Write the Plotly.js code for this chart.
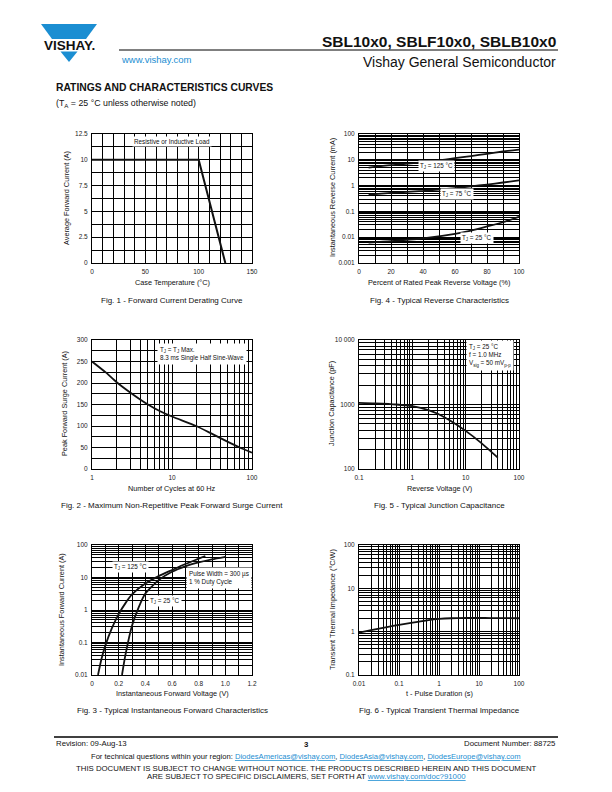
<!DOCTYPE html>
<html>
<head>
<meta charset="utf-8">
<script src="https://cdn.plot.ly/plotly-3.0.1.min.js"></script>
<style>
  body { margin: 0; background: #fff; }
  #plot { width: 612px; height: 792px; }
</style>
</head>
<body>
<div id="plot"></div>
<script>
/* Fig. 1 - Forward Current Derating Curve */
var derTemp = [0, 100, 125];
var derCurrent = [10, 10, 0];

/* Fig. 2 - Max. non-repetitive peak forward surge current */
var surgeCycles = [1, 1.5, 2, 3, 5, 7, 10, 20, 30, 50, 70, 100];
var surgeCurrent = [250, 224, 203, 178, 150, 135, 122, 100, 84, 63, 50, 38];

/* Fig. 3 - Typical instantaneous forward characteristics */
var fwd125V = [0.045, 0.07, 0.1, 0.15, 0.2, 0.25, 0.3, 0.4, 0.5, 0.6, 0.7, 0.8, 0.85];
var fwd125I = [0.01, 0.03, 0.08, 0.28, 0.75, 1.6, 3.0, 6.5, 11, 17, 26, 38, 46];
var fwd25V = [0.225, 0.25, 0.3, 0.35, 0.4, 0.5, 0.6, 0.7, 0.8, 0.9, 1.0];
var fwd25I = [0.01, 0.04, 0.33, 1.2, 3.2, 8.3, 15, 22, 29, 36, 43];

/* Fig. 4 - Typical reverse characteristics */
var revPct = [6, 20, 40, 60, 70, 80, 90, 100];
var rev125 = [5.0, 6.2, 7.9, 11.5, 14, 17, 21, 25];
var rev75 = [0.45, 0.52, 0.62, 0.8, 0.93, 1.1, 1.32, 1.6];
var rev25 = [0.0062, 0.007, 0.009, 0.0135, 0.018, 0.026, 0.038, 0.062];

/* Fig. 5 - Typical junction capacitance */
var capV = [0.1, 0.2, 0.5, 1, 2, 3, 5, 10, 20, 40];
var capPF = [1060, 1040, 1000, 940, 820, 720, 570, 390, 250, 150];

/* Fig. 6 - Typical transient thermal impedance */
var zthT = [0.01, 0.02, 0.05, 0.1, 0.2, 0.5, 1, 2, 5, 10, 20, 50, 100];
var zthK = [0.95, 1.08, 1.28, 1.43, 1.6, 1.83, 1.97, 2.04, 2.07, 2.07, 2.06, 2.05, 2.04];

/* tick labels */
var f1xTicks = [0, 50, 100, 150], f1xText = ['0', '50', '100', '150'];
var f1yTicks = [0, 2.5, 5, 7.5, 10, 12.5], f1yText = ['0', '2.5', '5', '7.5', '10', '12.5'];
var f2xTicks = [1, 10, 100], f2xText = ['1', '10', '100'];
var f2yTicks = [0, 50, 100, 150, 200, 250, 300], f2yText = ['0', '50', '100', '150', '200', '250', '300'];
var f3xTicks = [0, 0.2, 0.4, 0.6, 0.8, 1.0, 1.2], f3xText = ['0', '0.2', '0.4', '0.6', '0.8', '1.0', '1.2'];
var f3yTicks = [0.01, 0.1, 1, 10, 100], f3yText = ['0.01', '0.1', '1', '10', '100'];
var f4xTicks = [0, 20, 40, 60, 80, 100], f4xText = ['0', '20', '40', '60', '80', '100'];
var f4yTicks = [0.001, 0.01, 0.1, 1, 10, 100], f4yText = ['0.001', '0.01', '0.1', '1', '10', '100'];
var f5xTicks = [0.1, 1, 10, 100], f5xText = ['0.1', '1', '10', '100'];
var f5yTicks = [100, 1000, 10000], f5yText = ['100', '1000', '10 000'];
var f6xTicks = [0.01, 0.1, 1, 10, 100], f6xText = ['0.01', '0.1', '1', '10', '100'];
var f6yTicks = [0.1, 1, 10, 100], f6yText = ['0.1', '1', '10', '100'];

var W = 612, H = 792;
var FONT = 'Liberation Sans, Arial, Helvetica, sans-serif';
var BLUE = '#1b8ed2';

function px(x) { return x / W; }
function py(y) { return 1 - y / H; }
function dx(a, b) { return [px(a), px(b)]; }
function dy(a, b) { return [py(b), py(a)]; }

// grid lines: every step on linear axes, 1..9 per decade on log axes
function linGrid(lo, hi, step) {
  var v = [];
  for (var i = 0; lo + i * step <= hi + 1e-9; i++) v.push(+(lo + i * step).toFixed(4));
  return v;
}
function logGrid(lo, hi) {
  var v = [];
  for (var e = lo; e < hi; e++)
    for (var m = 1; m < 10; m++) v.push(+(m * Math.pow(10, e)).toPrecision(3));
  v.push(Math.pow(10, hi));
  return v;
}
function tickText(grid, vals, labels) {
  return grid.map(function (g) {
    for (var i = 0; i < vals.length; i++)
      if (Math.abs(vals[i] - g) <= 1e-6 * Math.max(1, Math.abs(g))) return labels[i];
    return '';
  });
}

function axis(dom, anchor, type, range, grid, vals, labels) {
  return {
    domain: dom, anchor: anchor, type: type, range: range,
    tickmode: 'array', tickvals: grid, ticktext: tickText(grid, vals, labels),
    showgrid: true, gridcolor: '#000', gridwidth: 1,
    showline: true, linecolor: '#000', linewidth: 1, mirror: true,
    zeroline: false, ticks: '', ticklabelstandoff: 2,
    tickfont: { family: FONT, size: 6.5, color: '#222' },
    fixedrange: true
  };
}

function curve(x, y, xa, ya) {
  return { x: x, y: y, xaxis: xa, yaxis: ya, type: 'scatter', mode: 'lines',
    line: { color: '#111', width: 1.8, shape: 'spline', smoothing: 0.6 },
    hoverinfo: 'skip' };
}

var data = [
  { x: derTemp, y: derCurrent, xaxis: 'x', yaxis: 'y', mode: 'lines',
    line: { color: '#111', width: 2 }, hoverinfo: 'skip' },
  curve(surgeCycles, surgeCurrent, 'x2', 'y2'),
  curve(fwd125V, fwd125I, 'x3', 'y3'),
  curve(fwd25V, fwd25I, 'x3', 'y3'),
  curve(revPct, rev125, 'x4', 'y4'),
  curve(revPct, rev75, 'x4', 'y4'),
  curve(revPct, rev25, 'x4', 'y4'),
  curve(capV, capPF, 'x5', 'y5'),
  curve(zthT, zthK, 'x6', 'y6')
];

var colL = dx(92, 252), colR = dx(359, 519);
var row1 = dy(134, 263), row2 = dy(340, 469), row3 = dy(545, 675);

function txt(text, x, y, size, opts) {
  var a = { text: text, x: x, y: y, xref: 'paper', yref: 'paper', showarrow: false,
    font: { family: FONT, size: size, color: '#111' }, xanchor: 'center', yanchor: 'middle' };
  for (var k in opts) a[k] = opts[k];
  return a;
}
function boxed(text, x, y, xref, yref, opts) {
  var a = { text: text, x: x, y: y, xref: xref, yref: yref, showarrow: false,
    font: { family: FONT, size: 6.3, color: '#111' }, bgcolor: '#fff', borderpad: 1,
    xanchor: 'center', yanchor: 'middle' };
  for (var k in opts) a[k] = opts[k];
  return a;
}
function link(s) { return '<span style="color:' + BLUE + ';text-decoration:underline">' + s + '</span>'; }

var CAP = 8, AX = 7.3, FOOT = 7.8;

var annotations = [
  // header
  txt('<b>VISHAY.</b>', px(69), py(45.5), 13.5, {}),
  txt('www.vishay.com', px(119), py(59), 9.5, { xanchor: 'left', font: { family: FONT, size: 9.5, color: BLUE } }),
  txt('<b>SBL10x0, SBLF10x0, SBLB10x0</b>', px(558), py(41), 15.5, { xanchor: 'right' }),
  txt('Vishay General Semiconductor', px(558), py(62), 14, { xanchor: 'right' }),
  txt('<b>RATINGS AND CHARACTERISTICS CURVES</b>', px(54), py(87), 10.3, { xanchor: 'left' }),
  txt('(T<sub>A</sub> = 25 °C unless otherwise noted)', px(54), py(103), 8.8, { xanchor: 'left' }),

  // captions
  txt('Fig. 1 - Forward Current Derating Curve', px(172), py(300), CAP, {}),
  txt('Fig. 4 - Typical Reverse Characteristics', px(439), py(300), CAP, {}),
  txt('Fig. 2 - Maximum Non-Repetitive Peak Forward Surge Current', px(172), py(505), CAP, {}),
  txt('Fig. 5 - Typical Junction Capacitance', px(439), py(505), CAP, {}),
  txt('Fig. 3 - Typical Instantaneous Forward Characteristics', px(172), py(710), CAP, {}),
  txt('Fig. 6 - Typical Transient Thermal Impedance', px(439), py(710), CAP, {}),

  // axis titles
  txt('Case Temperature (°C)', px(172), py(283), AX, {}),
  txt('Average Forward Current (A)', px(66), py(198), AX, { textangle: -90 }),
  txt('Percent of Rated Peak Reverse Voltage (%)', px(439), py(283), AX, {}),
  txt('Instantaneous Reverse Current (mA)', px(332), py(198), AX, { textangle: -90 }),
  txt('Number of Cycles at 60 Hz', px(172), py(488), AX, {}),
  txt('Peak Forward Surge Current (A)', px(65), py(404), AX, { textangle: -90 }),
  txt('Reverse Voltage (V)', px(439), py(488), AX, {}),
  txt('Junction Capacitance (pF)', px(332), py(404), AX, { textangle: -90 }),
  txt('Instantaneous Forward Voltage (V)', px(172), py(693), AX, {}),
  txt('Instantaneous Forward Current (A)', px(61), py(610), AX, { textangle: -90 }),
  txt('t - Pulse Duration (s)', px(439), py(693), AX, {}),
  txt('Transient Thermal Impedance (°C/W)', px(332), py(610), AX, { textangle: -90 }),

  // in-plot labels
  boxed('Resistive or Inductive Load', 75, 11.8, 'x', 'y', {}),
  boxed('T<sub>J</sub> = T<sub>J</sub> Max.<br>8.3 ms Single Half Sine-Wave', px(157), py(354), 'paper', 'paper',
    { xanchor: 'left', align: 'left', borderpad: 2 }),
  boxed('T<sub>J</sub> = 125 °C', 0.285, Math.log10(21), 'x3', 'y3', {}),
  boxed('T<sub>J</sub> = 25 °C', 0.55, Math.log10(1.9), 'x3', 'y3', {}),
  boxed('Pulse Width = 300 µs<br>1 % Duty Cycle', px(186), py(578), 'paper', 'paper',
    { xanchor: 'left', align: 'left', borderpad: 2 }),
  boxed('T<sub>J</sub> = 125 °C', 48.6, Math.log10(6), 'x4', 'y4', {}),
  boxed('T<sub>J</sub> = 75 °C', 61, Math.log10(0.49), 'x4', 'y4', {}),
  boxed('T<sub>J</sub> = 25 °C', 74, Math.log10(0.009), 'x4', 'y4', {}),
  boxed('T<sub>J</sub> = 25 °C<br>f = 1.0 MHz<br>V<sub>sig</sub> = 50 mV<sub>p-p</sub>', px(466), py(355), 'paper', 'paper',
    { xanchor: 'left', align: 'left', borderpad: 2 }),

  // footer
  txt('Revision: 09-Aug-13', px(54), py(743), FOOT, { xanchor: 'left' }),
  txt('<b>3</b>', px(306), py(744), FOOT, {}),
  txt('Document Number: 88725', px(558), py(743), FOOT, { xanchor: 'right' }),
  txt('For technical questions within your region: ' + link('DiodesAmericas@vishay.com') + ', ' +
      link('DiodesAsia@vishay.com') + ', ' + link('DiodesEurope@vishay.com'), px(306), py(756), 7.6, {}),
  txt('THIS DOCUMENT IS SUBJECT TO CHANGE WITHOUT NOTICE. THE PRODUCTS DESCRIBED HEREIN AND THIS DOCUMENT',
      px(306), py(768), FOOT, {}),
  txt('ARE SUBJECT TO SPECIFIC DISCLAIMERS, SET FORTH AT ' + link('www.vishay.com/doc?91000'),
      px(306), py(776.5), FOOT, {})
];

function path(pts) {
  return 'M' + pts.map(function (p) { return px(p[0]) + ',' + py(p[1]); }).join(' L') + ' Z';
}

var shapes = [
  // logo: inverted triangle cut by the name band
  { type: 'path', xref: 'paper', yref: 'paper', fillcolor: BLUE, line: { width: 0 },
    path: path([[41, 24], [97, 24], [86, 39], [52, 39]]) },
  { type: 'path', xref: 'paper', yref: 'paper', fillcolor: BLUE, line: { width: 0 },
    path: path([[60.5, 51.5], [77.5, 51.5], [69, 62]]) },
  // header & footer rules
  { type: 'line', xref: 'paper', yref: 'paper', x0: px(119), x1: px(558), y0: py(50), y1: py(50),
    line: { color: '#000', width: 1 } },
  { type: 'line', xref: 'paper', yref: 'paper', x0: px(54), x1: px(558), y0: py(737), y1: py(737),
    line: { color: '#000', width: 1.5 } }
];

var layout = {
  width: W, height: H,
  margin: { l: 0, r: 0, t: 0, b: 0 },
  paper_bgcolor: '#fff', plot_bgcolor: '#fff',
  showlegend: false,
  font: { family: FONT, color: '#111' },

  xaxis: axis(colL, 'y', 'linear', [0, 150], linGrid(0, 150, 10), f1xTicks, f1xText),
  yaxis: axis(row1, 'x', 'linear', [0, 12.5], linGrid(0, 12.5, 1.25), f1yTicks, f1yText),
  xaxis2: axis(colL, 'y2', 'log', [0, 2], logGrid(0, 2), f2xTicks, f2xText),
  yaxis2: axis(row2, 'x2', 'linear', [0, 300], linGrid(0, 300, 25), f2yTicks, f2yText),
  xaxis3: axis(colL, 'y3', 'linear', [0, 1.2], linGrid(0, 1.2, 0.1), f3xTicks, f3xText),
  yaxis3: axis(row3, 'x3', 'log', [-2, 2], logGrid(-2, 2), f3yTicks, f3yText),
  xaxis4: axis(colR, 'y4', 'linear', [0, 100], linGrid(0, 100, 10), f4xTicks, f4xText),
  yaxis4: axis(row1, 'x4', 'log', [-3, 2], logGrid(-3, 2), f4yTicks, f4yText),
  xaxis5: axis(colR, 'y5', 'log', [-1, 2], logGrid(-1, 2), f5xTicks, f5xText),
  yaxis5: axis(row2, 'x5', 'log', [2, 4], logGrid(2, 4), f5yTicks, f5yText),
  xaxis6: axis(colR, 'y6', 'log', [-2, 2], logGrid(-2, 2), f6xTicks, f6xText),
  yaxis6: axis(row3, 'x6', 'log', [-1, 2], logGrid(-1, 2), f6yTicks, f6yText),

  annotations: annotations,
  shapes: shapes
};

Plotly.newPlot('plot', data, layout, { displayModeBar: false, staticPlot: true });
</script>
</body>
</html>
